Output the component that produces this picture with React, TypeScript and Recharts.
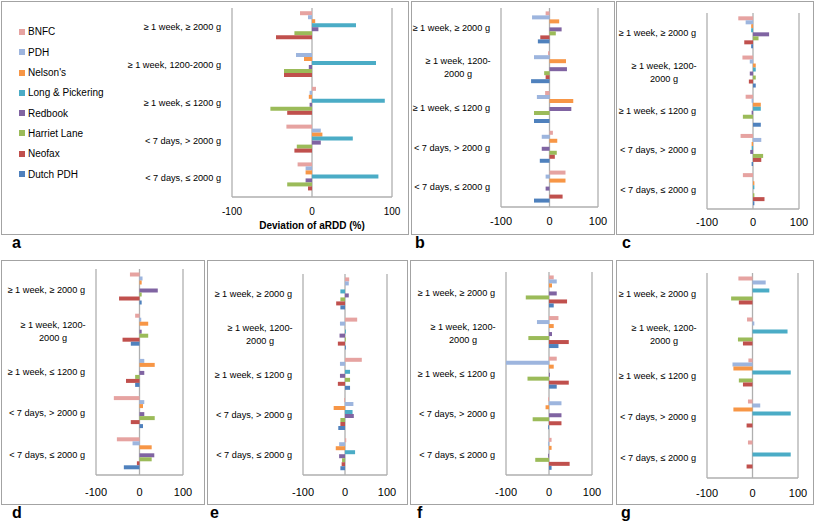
import { BarChart, Bar, XAxis, YAxis, CartesianGrid, Legend } from "recharts";

const categories = [
  "≥ 1 week, ≥ 2000 g",
  "≥ 1 week, 1200-2000 g",
  "≥ 1 week, ≤ 1200 g",
  "< 7 days, > 2000 g",
  "< 7 days, ≤ 2000 g",
];

const sources = ["BNFC", "PDH", "Nelson's", "Long & Pickering", "Redbook", "Harriet Lane", "Neofax", "Dutch PDH"];
const colors = ["#E6A3A1", "#9DB5DE", "#F79646", "#4BACC6", "#8064A2", "#9BBB59", "#C0504D", "#4F81BD"];

const xTicks = [-100, 0, 100];

// one row per source (same order as `sources`), one column per category
const deviationA = [
  [-15, 0, 5, -32, -18],
  [-5, -20, -3, 11, -8],
  [4, -10, -4, 13, -8],
  [55, 80, 91, 51, 83],
  [8, -4, -3, 11, -8],
  [-22, -35, -52, -19, -31],
  [-45, -35, -31, -22, -5],
  [0, 0, 0, 0, 0],
];
const deviationB = [
  [-8, -3, -9, 7, 33],
  [-36, -32, -26, -16, -8],
  [20, 34, 49, 16, 33],
  [0, 0, 0, 0, 0],
  [25, 36, 45, -16, -8],
  [13, -11, -32, 15, 0],
  [-19, -8, 0, 11, 27],
  [-24, -38, -32, -20, -32],
];
const deviationC = [
  [-32, -23, -16, -27, -22],
  [-16, -7, -3, 18, 0],
  [-4, 6, 17, -3, 3],
  [-4, 6, 17, -3, 3],
  [35, -7, -3, -6, 0],
  [12, 6, -22, 22, 3],
  [-19, -9, 0, 18, 25],
  [-4, 6, 17, -3, 3],
];
const deviationD = [
  [-22, -10, 0, -59, -52],
  [7, 4, 11, 11, -16],
  [5, 20, 35, 8, 28],
  [0, 0, 0, 0, 0],
  [42, 5, 11, 11, 34],
  [5, 20, -10, 35, 28],
  [-47, -39, -31, -20, -6],
  [5, -20, -10, 8, -36],
];
const deviationE = [
  [10, 29, 40, -2, 3],
  [9, -12, -12, 20, -14],
  [0, 0, 0, -27, -22],
  [-11, 2, 12, 18, 24],
  [9, -13, -12, 21, -14],
  [-11, 2, 12, -11, -7],
  [-21, -17, -17, -11, -8],
  [-11, 2, 12, -16, -11],
];
const deviationF = [
  [11, 22, 18, -2, 6],
  [18, -28, -100, 29, -2],
  [7, 11, 11, -8, 6],
  [0, 0, 0, 0, 0],
  [18, 7, 2, 29, -2],
  [-54, -48, -50, -38, -32],
  [42, 46, 46, 29, 48],
  [11, 22, 18, -2, 6],
];
const deviationG = [
  [-31, -12, -9, -10, -10],
  [29, 4, -44, 17, 0],
  [0, 0, -42, -42, 0],
  [37, 77, 84, 84, 84],
  [0, 0, 0, 0, 0],
  [-47, -32, -30, 1, 0],
  [-30, -21, -21, -13, -13],
  [0, 0, 0, 0, 0],
];

// layout: box = [left, top, right, bottom] of the frame, plot = edges of the plot area
const panels = [
  { label: "a", values: deviationA, box: [1, 1, 408, 234], plot: { left: 232, right: 392, top: 8, bottom: 197 }, tm: 11, tickFont: 10, main: true, lx: 12, ly: 234.5 },
  { label: "b", values: deviationB, box: [411, 1, 614, 234], plot: { left: 501, right: 598, top: 8, bottom: 207 }, tm: 10, tickFont: 11, lx: 415, ly: 234.5 },
  { label: "c", values: deviationC, box: [616, 1, 813, 234], plot: { left: 707, right: 799, top: 13, bottom: 209 }, tm: 9, tickFont: 11, lx: 622, ly: 234.5 },
  { label: "d", values: deviationD, box: [1, 260, 204, 504], plot: { left: 96, right: 183, top: 269, bottom: 475 }, tm: 13, tickFont: 11, lx: 12, ly: 504.5 },
  { label: "e", values: deviationE, box: [207, 260, 407, 504], plot: { left: 303, right: 387, top: 274, bottom: 475 }, tm: 13, tickFont: 11, lx: 210, ly: 504.5 },
  { label: "f", values: deviationF, box: [410, 260, 612, 504], plot: { left: 506, right: 592, top: 272, bottom: 475 }, tm: 13, tickFont: 11, lx: 417, ly: 504.5 },
  { label: "g", values: deviationG, box: [616, 260, 813, 504], plot: { left: 707, right: 798, top: 273, bottom: 478 }, tm: 11, tickFont: 11, lx: 621, ly: 504.5 },
];

function CategoryTick(props: any) {
  const { x, y, payload, split } = props;
  const label: string = payload.value;
  const cut = label.indexOf("-") + 1;
  if (split && cut > 0) {
    return (
      <text x={x - 32} y={y} textAnchor="middle" fontSize={9.2} fill="#000">
        <tspan x={x - 32} dy={-3.3}>{label.slice(0, cut)}</tspan>
        <tspan x={x - 32} dy={13}>{label.slice(cut)}</tspan>
      </text>
    );
  }
  return (
    <text x={x} y={y} dy={3.2} textAnchor="end" fontSize={9.2} fill="#000">
      {label}
    </text>
  );
}

const renderLegend = (props: any) => {
  const items = [...(props.payload || [])].sort(
    (m: any, n: any) => sources.indexOf(m.value) - sources.indexOf(n.value)
  );
  return (
    <div>
      {items.map((entry: any) => (
        <div key={entry.value} style={{ display: "flex", alignItems: "center", height: 20.3, fontSize: 10, color: "#000" }}>
          <span style={{ display: "inline-block", width: 6, height: 6, background: entry.color, marginRight: 3 }} />
          <span>{entry.value}</span>
        </div>
      ))}
    </div>
  );
};

function Panel({ p }: { p: any }) {
  const [bl, bt, br, bb] = p.box;
  const w = br - bl + 1;
  const h = bb - bt + 1;
  const data = categories.map((cat, i) => {
    const row: any = { cat };
    sources.forEach((s, j) => {
      row[s] = p.values[j][i];
    });
    return row;
  });
  return (
    <>
      <div
        style={{
          position: "absolute",
          left: bl,
          top: bt,
          width: w,
          height: h,
          border: "1px solid #A3A3A3",
          boxSizing: "border-box",
        }}
      />
      <div style={{ position: "absolute", left: bl, top: bt }}>
        <BarChart
          width={w}
          height={h}
          data={data}
          layout="vertical"
          barCategoryGap="8.5%"
          barGap={0}
          margin={{ top: p.plot.top - bt, right: br + 1 - p.plot.right, bottom: 0, left: 0 }}
        >
          <CartesianGrid horizontal={false} stroke="#AFAFAF" strokeWidth={1.3} />
          <XAxis
            type="number"
            domain={[-100, 100]}
            ticks={xTicks}
            height={bb + 1 - p.plot.bottom}
            axisLine={{ stroke: "#AFAFAF", strokeWidth: 1.3 }}
            tickLine={false}
            tickSize={0}
            tickMargin={p.tm}
            tick={{ fontSize: p.tickFont, fill: "#000" }}
            label={
              p.main
                ? {
                    value: "Deviation of aRDD (%)",
                    position: "insideBottom",
                    offset: 6,
                    style: { fontSize: 10, fontWeight: "bold", fill: "#000" },
                  }
                : undefined
            }
          />
          <YAxis
            type="category"
            dataKey="cat"
            width={p.plot.left - bl}
            axisLine={false}
            tickLine={false}
            tickSize={0}
            tickMargin={11}
            interval={0}
            tick={(tp: any) => <CategoryTick {...tp} split={!p.main} />}
          />
          {sources.map((s, j) => (
            <Bar key={s} dataKey={s} name={s} fill={colors[j]} isAnimationActive={false} />
          ))}
          {p.main && (
            <Legend
              layout="vertical"
              align="center"
              verticalAlign="middle"
              itemSorter={(item: any) => sources.indexOf(item.value)}
              content={renderLegend}
              wrapperStyle={{ left: 18, top: 20.8, width: 130 }}
            />
          )}
        </BarChart>
      </div>
      <div
        style={{
          position: "absolute",
          left: p.lx,
          top: p.ly,
          fontSize: 16,
          lineHeight: "16px",
          fontWeight: "bold",
          color: "#000",
        }}
      >
        {p.label}
      </div>
    </>
  );
}

export default function App() {
  return (
    <div
      style={{
        position: "absolute",
        left: 0,
        top: 0,
        width: 815,
        height: 525,
        background: "#fff",
        fontFamily: "'Liberation Sans', Arial, sans-serif",
      }}
    >
      {panels.map((p) => (
        <Panel key={p.label} p={p} />
      ))}
    </div>
  );
}
